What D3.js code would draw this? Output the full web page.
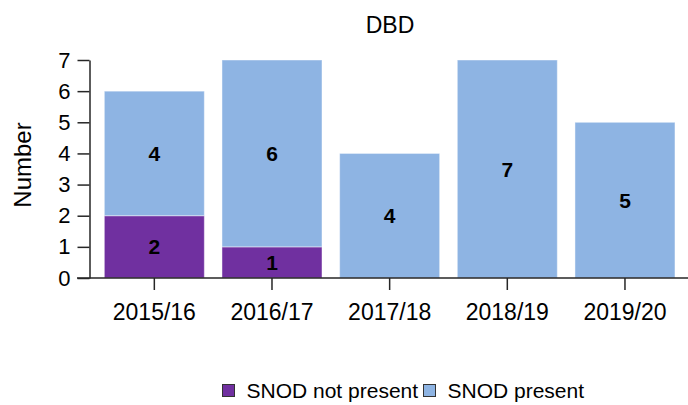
<!DOCTYPE html>
<html>
<head>
<meta charset="utf-8">
<script src="https://cdn.jsdelivr.net/npm/d3@7"></script>
<style>
  html, body { margin: 0; padding: 0; background: #fff; }
  svg { display: block; font-family: "Liberation Sans", Arial, sans-serif; }
</style>
</head>
<body>
<svg id="chart" width="688" height="405"></svg>
<script>
const categories = ["2015/16", "2016/17", "2017/18", "2018/19", "2019/20"];
const notPresent = [2, 1, 0, 0, 0];
const present = [4, 6, 4, 7, 5];
const seriesNames = ["SNOD not present", "SNOD present"];
const seriesColors = ["#7030A0", "#8EB4E3"];
const yTicks = [0, 1, 2, 3, 4, 5, 6, 7];
const title = "DBD";
const yTitle = "Number";

const svg = d3.select("#chart");
const yBottom = 278, yTop = 60, xLeft = 89.5;

const x = d3.scaleBand().domain(categories).range([95.5, 683.8])
  .paddingInner(0.15).paddingOuter(0.075);
const y = d3.scaleLinear().domain([0, 7]).range([yBottom, yTop]);

const rows = categories.map((c, i) => ({cat: c, vals: [notPresent[i], present[i]]}));
const stack = d3.stack().keys([0, 1]).value((d, k) => d.vals[k]);
const stacked = stack(rows);

// bars
const g = svg.append("g");
stacked.forEach((layer, li) => {
  g.selectAll(null).data(layer).enter().append("rect")
    .attr("x", d => x(d.data.cat))
    .attr("width", x.bandwidth())
    .attr("y", d => y(d[1]))
    .attr("height", d => y(d[0]) - y(d[1]))
    .attr("fill", seriesColors[li])
    .attr("stroke", "rgba(255,255,255,0.45)")
    .attr("stroke-width", 1);
});

// bar labels
stacked.forEach((layer, li) => {
  g.selectAll(null).data(layer.filter(d => d[1] - d[0] > 0)).enter().append("text")
    .attr("x", d => x(d.data.cat) + x.bandwidth() / 2)
    .attr("y", d => y((d[0] + d[1]) / 2))
    .attr("dy", "0.36em")
    .attr("text-anchor", "middle")
    .attr("font-weight", "bold")
    .attr("font-size", 21)
    .attr("fill", "#000")
    .text(d => d[1] - d[0]);
});

// y axis
const yAxis = svg.append("g")
  .attr("transform", `translate(${xLeft},0)`)
  .call(d3.axisLeft(y).tickValues(yTicks).tickFormat(d3.format("d"))
    .tickSize(12).tickPadding(7).tickSizeOuter(0));
yAxis.attr("font-size", null).attr("font-family", null);
yAxis.select(".domain").attr("stroke", "#262626").attr("stroke-width", 1.5);
yAxis.selectAll(".tick line").attr("stroke", "#262626").attr("stroke-width", 1.5);
yAxis.selectAll(".tick text").style("font-size", "22px").attr("fill", "#000");

// x axis
const xAxis = svg.append("g")
  .attr("transform", `translate(0,${yBottom})`)
  .call(d3.axisBottom(x).tickSize(12).tickPadding(14).tickSizeOuter(0));
xAxis.attr("font-size", null).attr("font-family", null);
xAxis.select(".domain").remove();
xAxis.insert("line", ":first-child")
  .attr("x1", 77).attr("x2", 688).attr("y1", 0).attr("y2", 0)
  .attr("stroke", "#262626").attr("stroke-width", 1.5);
xAxis.selectAll(".tick line").attr("stroke", "#262626").attr("stroke-width", 1.5);
xAxis.selectAll(".tick text").style("font-size", "23px").attr("fill", "#000");

// title
svg.append("text").attr("x", 390).attr("y", 33).attr("text-anchor", "middle")
  .style("font-size", "23px").attr("fill", "#000").text(title);

// y title
svg.append("text")
  .attr("transform", `translate(31,165) rotate(-90)`)
  .attr("text-anchor", "middle")
  .style("font-size", "24px").attr("fill", "#000").text(yTitle);

// legend
const legendX = [222, 423];
const leg = svg.append("g");
seriesNames.forEach((name, i) => {
  leg.append("rect").attr("x", legendX[i] + 0.5).attr("y", 384.5).attr("width", 12).attr("height", 12)
    .attr("fill", seriesColors[i]).attr("stroke", "#333").attr("stroke-width", 1);
  leg.append("text").attr("x", legendX[i] + 24.5).attr("y", 398)
    .style("font-size", "21px").attr("fill", "#000").text(name);
});
</script>
</body>
</html>
